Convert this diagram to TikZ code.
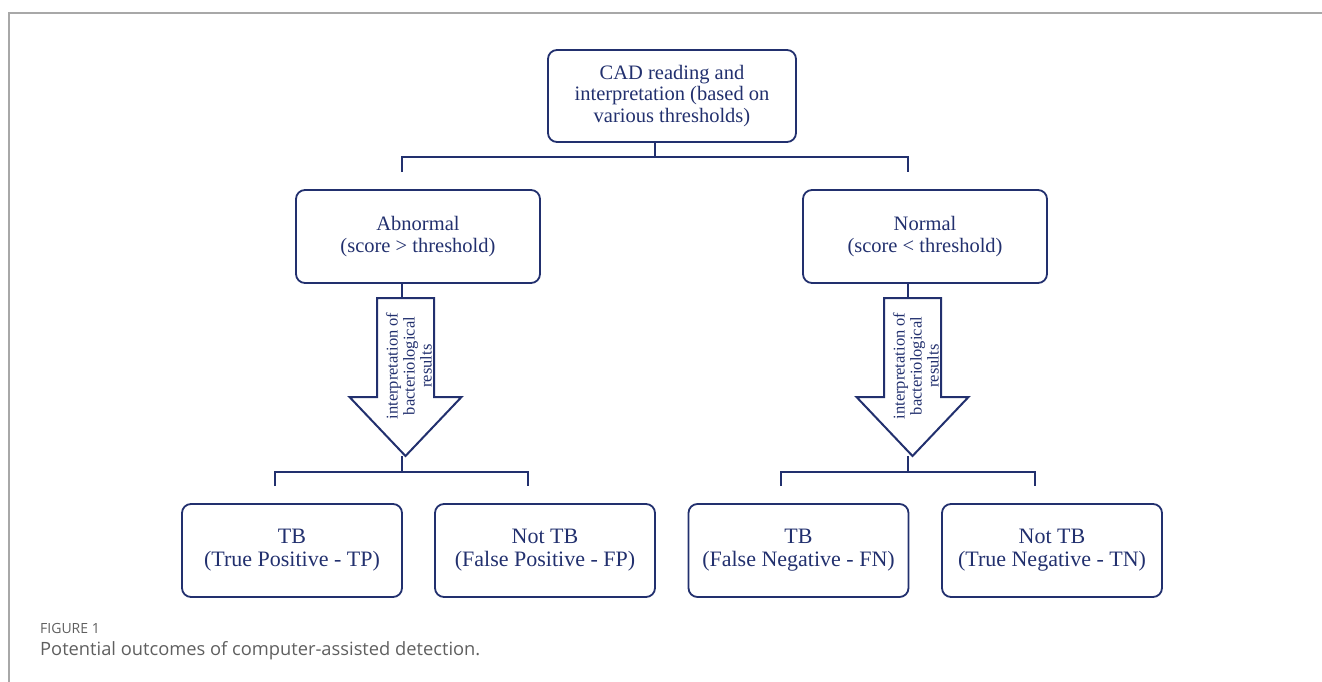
\documentclass[tikz,border=0pt]{standalone}
\usepackage{fontspec}
\setmainfont{Liberation Serif}
\newfontfamily\capfont{Open Sans}
\definecolor{navy}{HTML}{22306E}
\definecolor{capgray}{HTML}{5F5F5F}
\definecolor{framegray}{HTML}{A8A8A8}
\tikzset{
  box/.style={draw=navy, line width=1.8pt, rounded corners=9pt, text=navy, align=center,
    inner sep=0pt, minimum width=220pt, minimum height=93pt},
  link/.style={draw=navy, line width=1.8pt},
  bigarrow/.style={draw=navy, line width=2pt, line join=miter, fill=white},
  arrowtext/.style={rotate=90, align=center, text=navy, inner sep=0pt,
    font=\fontsize{16.5}{17}\selectfont},
}
\begin{document}
\begin{tikzpicture}[x=1pt, y=-1pt]
  \useasboundingbox (0,0) rectangle (1322,682);
  % frame of the figure
  \draw[framegray, line width=1.2pt] (9,682) -- (9,13) -- (1322,13);

  % boxes
  \node[box, minimum width=248pt, minimum height=92pt, font=\fontsize{20.5}{21.5}\selectfont] (cad) at (672,96)
    {CAD reading and\\interpretation (based on\\various thresholds)};
  \node[box, minimum width=244pt, font=\fontsize{20.5}{22}\selectfont] (abn) at (418,236.5)
    {Abnormal\\(score > threshold)};
  \node[box, minimum width=244pt, font=\fontsize{20.5}{22}\selectfont] (nor) at (925,236.5)
    {Normal\\(score < threshold)};
  \node[box, font=\fontsize{22}{23}\selectfont] (tp) at (292,550.5) {TB\\(True Positive - TP)};
  \node[box, font=\fontsize{22}{23}\selectfont] (fp) at (545,550.5) {Not TB\\(False Positive - FP)};
  \node[box, font=\fontsize{22}{23}\selectfont] (fn) at (798.5,550.5) {TB\\(False Negative - FN)};
  \node[box, font=\fontsize{22}{23}\selectfont] (tn) at (1052,550.5) {Not TB\\(True Negative - TN)};

  % top split
  \coordinate (cad-out) at (655,142);
  \coordinate (cad-split) at (655,157);
  \coordinate (abn-in) at (402,172);
  \coordinate (nor-in) at (908,172);
  \draw[link] (cad-out) -- (cad-split);
  \draw[link] (abn-in) |- (cad-split) -| (nor-in);

  % big arrows with the bacteriology step
  \foreach \name/\c/\s in {abn/405.5/402, nor/912.5/908} {
    \coordinate (\name-top) at (\s,298);
    \coordinate (\name-tip) at (\c,456);
    \draw[bigarrow] (\c-28.5,298) -- (\c+28.5,298) -- (\c+28.5,397) -- (\c+56,397)
      -- (\name-tip) -- (\c-56,397) -- (\c-28.5,397) -- cycle;
    \node[arrowtext] (\name-txt) at (\c+3.5,366) {interpretation of\\bacteriological\\results};
    \coordinate (\name-out) at (\s,283);
    \draw[link] (\name-out) -- (\name-top);
    \coordinate (\name-split) at (\s,472);
    \draw[link] (\s,456) -- (\name-split);
  }

  % lower splits
  \coordinate (tp-in) at (275,486);
  \coordinate (fp-in) at (528,486);
  \coordinate (fn-in) at (781,486);
  \coordinate (tn-in) at (1035,486);
  \draw[link] (tp-in) |- (abn-split) -| (fp-in);
  \draw[link] (fn-in) |- (nor-split) -| (tn-in);

  % caption
  \node[anchor=west, text=capgray, inner sep=0pt, font=\capfont\fontsize{14}{15}\selectfont] (fig) at (40,628) {FIGURE 1};
  \node[anchor=west, text=capgray, inner sep=0pt, font=\capfont\fontsize{18.3}{19}\selectfont] (cap) at (40,651)
    {Potential outcomes of computer-assisted detection.};
\end{tikzpicture}
\end{document}
